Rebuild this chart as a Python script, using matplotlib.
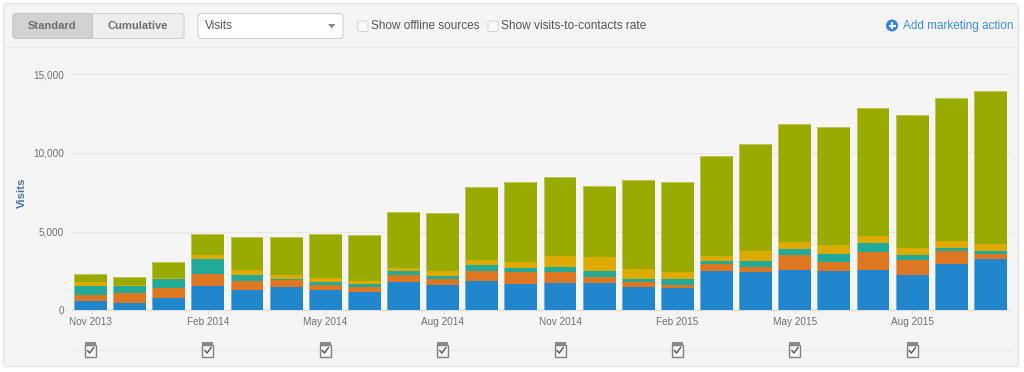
import numpy as np
import matplotlib
matplotlib.use("Agg")
import matplotlib.pyplot as plt
from matplotlib.patches import FancyBboxPatch, Rectangle, Circle, Polygon

plt.rcParams['font.family'] = ['Liberation Sans', 'DejaVu Sans']

# monthly values, Nov 2013 to Oct 2015
purple = [0, 0, 0, 0, 50, 0, 0, 0, 0, 0, 0, 0, 0, 50, 0, 0, 0, 0, 0, 50, 0, 0, 0, 0]
blue = [560, 470, 800, 1550, 1220, 1505, 1310, 1160, 1830, 1610, 1890, 1680,
        1720, 1670, 1505, 1400, 2470, 2430, 2540, 2420, 2540, 2240, 2950, 3270]
orange = [410, 630, 620, 750, 620, 405, 300, 345, 410, 350, 580, 730,
          690, 410, 280, 210, 480, 300, 960, 580, 1160, 940, 790, 300]
teal = [600, 470, 540, 970, 350, 110, 175, 175, 230, 230, 390, 300,
        340, 340, 175, 350, 170, 390, 370, 520, 560, 320, 220, 170]
gold = [260, 40, 100, 230, 300, 220, 275, 210, 240, 280, 365, 340,
        690, 905, 685, 450, 320, 680, 450, 580, 470, 460, 470, 470]
green = [470, 520, 990, 1340, 2130, 2430, 2780, 2905, 3525, 3700, 4625, 5080,
         5010, 4515, 5635, 5760, 6360, 6800, 7530, 7500, 8120, 8440, 9070, 9740]

series = [purple, blue, orange, teal, gold, green]
colors = ['#aa5fa5', '#2286cc', '#de7722', '#22aa99', '#ddaa00', '#99aa00']

tick_pos = [0, 3, 6, 9, 12, 15, 18, 21]
tick_labels = ['Nov 2013', 'Feb 2014', 'May 2014', 'Aug 2014',
               'Nov 2014', 'Feb 2015', 'May 2015', 'Aug 2015']
y_ticks = [0, 5000, 10000, 15000]
y_labels = ['0', '5,000', '10,000', '15,000']

W, H = 1024, 372


def px_axes(fig, left, top, right, bottom):
    # axes placed by pixel edges, measured from the top left
    return fig.add_axes([left / W, 1 - bottom / H, (right - left) / W, (bottom - top) / H])


def draw_toolbar(ui):
    grey = '#555555'
    ui.add_patch(FancyBboxPatch((3.5, 3.5), 1015, 363, boxstyle='round,pad=0,rounding_size=4',
                                fc='#f5f5f5', ec='#e4e4e4', lw=0.9))
    ui.plot([4, 1018], [47.3, 47.3], color='#ebebeb', lw=0.7)

    # Standard / Cumulative buttons
    ui.add_patch(FancyBboxPatch((13, 13.5), 171, 25, boxstyle='round,pad=0,rounding_size=3',
                                fc='#eeeeee', ec='#cccccc', lw=0.7))
    ui.add_patch(FancyBboxPatch((13, 13.5), 79.5, 25, boxstyle='round,pad=0,rounding_size=3',
                                fc='#d2d2d2', ec='#c2c2c2', lw=0.7))
    ui.text(52.5, 26, 'Standard', ha='center', va='center', fontsize=8, fontweight='bold', color='#6e6e6e')
    ui.text(138, 26, 'Cumulative', ha='center', va='center', fontsize=8, fontweight='bold', color='#6e6e6e')

    # dropdown
    ui.add_patch(FancyBboxPatch((198, 13.5), 145, 25, boxstyle='round,pad=0,rounding_size=3',
                                fc='white', ec='#cccccc', lw=0.7))
    ui.text(205, 26, 'Visits', ha='left', va='center', fontsize=8.5, color=grey)
    ui.add_patch(Polygon([[328, 24], [335.5, 24], [331.7, 28.5]], fc='#888888', ec='none'))

    # checkboxes
    for x in (357.5, 488):
        ui.add_patch(FancyBboxPatch((x, 21), 10.5, 10.5, boxstyle='round,pad=0,rounding_size=2',
                                    fc='#fafafa', ec='#d0d0d0', lw=0.6))
    ui.text(371, 26, 'Show offline sources', ha='left', va='center', fontsize=8.5, color=grey)
    ui.text(501, 26, 'Show visits-to-contacts rate', ha='left', va='center', fontsize=8.6, color=grey)

    # add action link
    ui.add_patch(Circle((892, 25.5), 6, fc='#2e86de', ec='none'))
    ui.plot([888.5, 895.5], [25.5, 25.5], color='white', lw=1.5, solid_capstyle='butt')
    ui.plot([892, 892], [22, 29], color='white', lw=1.5, solid_capstyle='butt')
    ui.text(903, 26, 'Add marketing action', ha='left', va='center', fontsize=8.5, color='#3d8fe0')


def draw_note_icons(notes):
    notes.set_ylim(362, 335)
    notes.axis('off')
    notes.plot([-0.473, 23.5], [349.5, 349.5], color='#e8e8e8', lw=0.8, zorder=1)
    dx = 1 / 39.13
    for t in tick_pos:
        notes.add_patch(Rectangle((t - 5.5 * dx, 344.5), 11 * dx, 12, fc='#f5f5f5', ec='#808080', lw=1, zorder=2))
        notes.add_patch(Rectangle((t - 5.5 * dx, 342), 11 * dx, 3, fc='#8a8a8a', ec='none', zorder=3))
        notes.plot([t - 3 * dx, t - 0.8 * dx, t + 3.2 * dx], [350.5, 353, 347.5], color='#555555', lw=1, zorder=3)


fig = plt.figure(figsize=(W / 100, H / 100), dpi=100, facecolor='white')

ui = fig.add_axes([0, 0, 1, 1], zorder=0)
ui.set_xlim(0, W)
ui.set_ylim(H, 0)
ui.axis('off')
draw_toolbar(ui)

ax = px_axes(fig, 72, 74.3, 1010, 310.3)
ax.set_zorder(1)
ax.patch.set_alpha(0)
x = np.arange(len(blue))
bottom = np.zeros(len(blue))
for values, color in zip(series, colors):
    ax.bar(x, values, width=0.84, bottom=bottom, color=color, zorder=3)
    bottom += np.array(values)
# thin pale outline around each column
ax.bar(x, bottom, width=0.84, fill=False, edgecolor='white', alpha=0.35, lw=0.7, zorder=4)

ax.set_xlim(-0.473, 23.5)
ax.set_ylim(0, 15000)
ax.set_yticks(y_ticks, y_labels)
ax.set_xticks(tick_pos, tick_labels)
ax.grid(axis='y', color='#e6e6e6', lw=0.9, zorder=1)
ax.tick_params(axis='y', length=0, pad=5.8, labelsize=7.2, labelcolor='#707070')
ax.tick_params(axis='x', length=3, width=0.7, color='#d8e2ec', pad=1.5, labelsize=7.2, labelcolor='#707070')
for side in ['top', 'right', 'left']:
    ax.spines[side].set_visible(False)
ax.spines['bottom'].set_color('#dddddd')
ax.spines['bottom'].set_linewidth(0.9)
ui.text(21.5, 192.5, 'Visits', rotation=90, ha='center', va='center', fontsize=8.2,
        fontweight='bold', color='#4a78a8')

notes = px_axes(fig, 72, 335, 1010, 362)
notes.set_zorder(1)
notes.patch.set_alpha(0)
notes.set_xlim(-0.473, 23.5)
draw_note_icons(notes)

fig.savefig('out.png', dpi=100)
